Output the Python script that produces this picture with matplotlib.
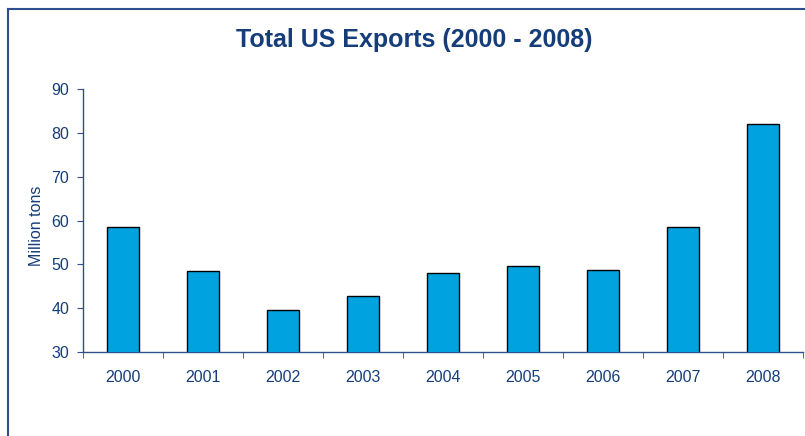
import matplotlib
matplotlib.use('Agg')
import numpy as np
import matplotlib.pyplot as plt
from matplotlib.lines import Line2D

plt.rcParams['font.family'] = ['Liberation Sans', 'DejaVu Sans']

years = ['2000', '2001', '2002', '2003', '2004', '2005', '2006', '2007', '2008']
exports = [58.6, 48.5, 39.6, 42.8, 48.1, 49.7, 48.7, 58.5, 82.0]

navy = '#153D7A'
axis_col = '#2E4F8C'
bar_col = '#00A3E0'

fig = plt.figure(figsize=(8.05, 4.36), dpi=100)
ax = fig.add_axes([0.1031, 0.1927, 0.8944, 0.6025])

x = np.arange(len(years))
ax.bar(x, exports, width=0.41, bottom=0, color=bar_col, edgecolor='black',
       linewidth=1.0, zorder=3)

ax.set_xlim(-0.5, len(years) - 0.5)
ax.set_ylim(30, 90)
ax.set_yticks(range(30, 91, 10))
ax.set_xticks(x)
ax.set_xticklabels(years)
ax.set_xticks(np.arange(-0.5, len(years), 1), minor=True)

for side in ['top', 'right']:
    ax.spines[side].set_visible(False)
for side in ['left', 'bottom']:
    ax.spines[side].set_color(axis_col)
    ax.spines[side].set_linewidth(1.0)

ax.tick_params(axis='x', which='major', length=0, pad=13, labelsize=11.5, labelcolor=navy)
ax.tick_params(axis='x', which='minor', length=4, direction='out', color=axis_col)
ax.tick_params(axis='y', length=4, direction='out', color=axis_col, pad=6,
               labelsize=11.5, labelcolor=navy)

ax.set_ylabel('Million tons', color=navy, fontsize=11.5, va='center')
ax.yaxis.set_label_coords(-0.065, 0.481)

fig.text(0.514, 0.908, 'Total US Exports (2000 - 2008)', ha='center', va='center',
         fontsize=18, fontweight='bold', color=navy)

# outer frame along the left and top edges
fig.add_artist(Line2D([7.5 / 805, 7.5 / 805], [0, 1 - 9 / 436], transform=fig.transFigure,
                      color=axis_col, linewidth=1.5))
fig.add_artist(Line2D([7.5 / 805, 1], [1 - 9 / 436, 1 - 9 / 436], transform=fig.transFigure,
                      color=axis_col, linewidth=1.5))

fig.savefig('out.png', dpi=100)
